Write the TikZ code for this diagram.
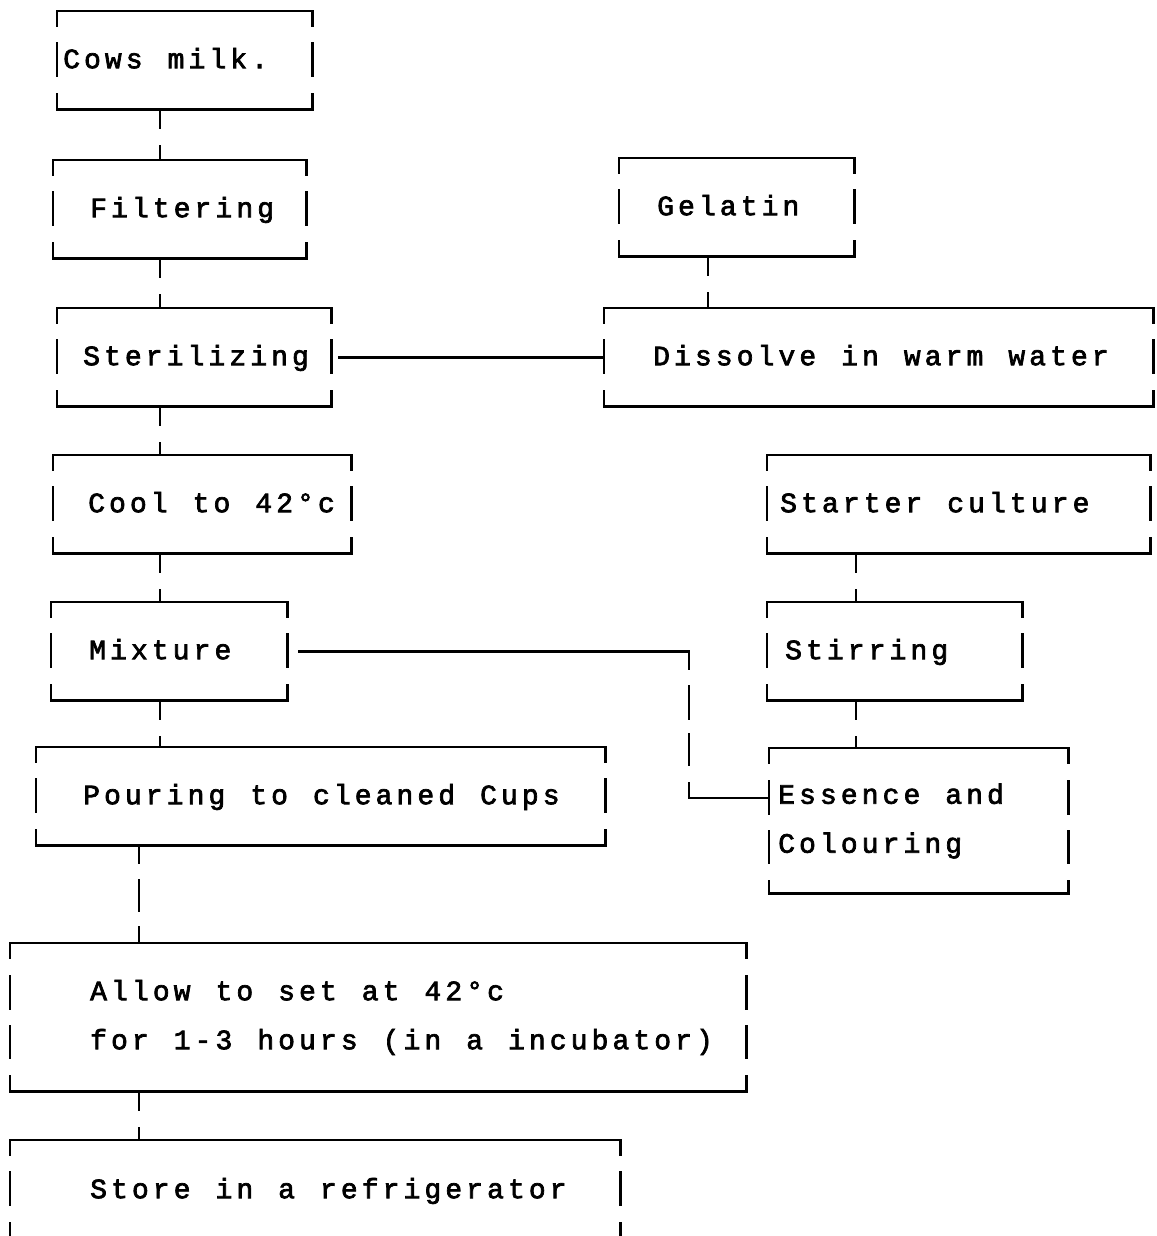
\documentclass[tikz,border=0pt]{standalone}
\usepackage{fontspec}
\usepackage{tikz}
\newfontfamily\tyfont{Liberation Mono}[LetterSpace=14.6,FakeBold=2.5]

\begin{document}
\begin{tikzpicture}[
    x=1pt, y=1pt,
    box/.style={anchor=north west, inner sep=0pt, align=left,
      font=\tyfont\fontsize{28}{49}\selectfont,
      text height=24pt, text depth=8pt, minimum height=98pt},
    twobox/.style={box, text depth=58pt, minimum height=148pt},
    ind/.style={execute at begin node={\leftskip=#1pt\spaceskip=25pt\xspaceskip=25pt\relax}},
    frame/.style={line width=2.6pt, line cap=rect},
    side/.style={frame, dash pattern=on 15pt off 17pt on 33pt off 18pt on 15pt},
    twoside/.style={frame, dash pattern=on 15pt off 18pt on 33pt off 17pt on 32pt off 18pt on 15pt},
    link/.style={frame, dash pattern=on 18pt off 19pt on 40pt}
]
    \useasboundingbox (0,0) rectangle (1156,-1236);
    \clip (0,0) rectangle (1156,-1236);

    % milk line
    \node[box, text width=255pt, ind=6] (cows) at (57,-11) {Cows milk.};
    \node[box, text width=253pt, ind=37] (filter) at (53,-160) {Filtering};
    \node[box, text width=274pt, ind=26] (steril) at (57,-308) {Sterilizing};
    \node[box, text width=298pt, ind=35] (cool) at (53,-455) {Cool to 42°c};
    \node[box, text width=236pt, ind=38] (mix) at (51,-602) {Mixture};
    \node[box, text width=569pt, ind=47] (pour) at (36,-747) {Pouring to cleaned Cups};
    \node[twobox, text width=736pt, ind=80] (allow) at (10,-943) {Allow to set at 42°c\\for 1-3 hours (in a incubator)};
    \node[box, text width=610pt, ind=80, minimum height=100pt] (store) at (10,-1140) {Store in a refrigerator};

    % gelatin and culture
    \node[box, text width=235pt, ind=38] (gel) at (619,-158) {Gelatin};
    \node[box, text width=549pt, ind=49] (dissolve) at (604,-308) {Dissolve in warm water};
    \node[box, text width=383pt, ind=13] (starter) at (767,-455) {Starter culture};
    \node[box, text width=255pt, ind=18] (stir) at (767,-602) {Stirring};
    \node[twobox, text width=299pt, ind=9, minimum height=145pt] (essence) at (769,-748) {Essence and\\Colouring};

    % typed frames
    \foreach \n in {cows,filter,steril,cool,mix,pour,store,gel,dissolve,starter,stir} {
        \draw[frame] (\n.north west) -- (\n.north east);
        \draw[frame] (\n.south west) -- (\n.south east);
        \draw[side] (\n.north west) -- (\n.south west);
        \draw[side] (\n.north east) -- (\n.south east);
    }
    \foreach \n in {allow,essence} {
        \draw[frame] (\n.north west) -- (\n.north east);
        \draw[frame] (\n.south west) -- (\n.south east);
        \draw[twoside] (\n.north west) -- (\n.south west);
        \draw[twoside] (\n.north east) -- (\n.south east);
    }

    % stems
    \coordinate (lstem) at (160,0);
    \coordinate (lstem2) at (139,0);
    \coordinate (gstem) at (708,0);
    \coordinate (rstem) at (856,0);
    \draw[link] (cows.south -| lstem) -- (filter.north -| lstem);
    \draw[link] (filter.south -| lstem) -- (steril.north -| lstem);
    \draw[link] (steril.south -| lstem) -- (cool.north -| lstem);
    \draw[link] (cool.south -| lstem) -- (mix.north -| lstem);
    \draw[link] (mix.south -| lstem) -- (pour.north -| lstem);
    \draw[frame, dash pattern=on 17pt off 18pt on 30pt off 17pt on 20pt]
        (pour.south -| lstem2) -- (allow.north -| lstem2);
    \draw[link] (allow.south -| lstem2) -- (store.north -| lstem2);
    \draw[link] (gel.south -| gstem) -- (dissolve.north -| gstem);
    \draw[link] (starter.south -| rstem) -- (stir.north -| rstem);
    \draw[link] (stir.south -| rstem) -- (essence.north -| rstem);

    % side feeds
    \draw[frame] ([xshift=8pt]steril.east) -- (dissolve.west);
    \draw[frame, dash pattern=on 407pt off 18pt on 32pt off 16pt on 30pt off 19pt on 95pt]
        ([xshift=12pt]mix.east) -| ([xshift=-80pt,yshift=-50pt]essence.north west)
        -- ([yshift=-50pt]essence.north west);
\end{tikzpicture}
\end{document}
